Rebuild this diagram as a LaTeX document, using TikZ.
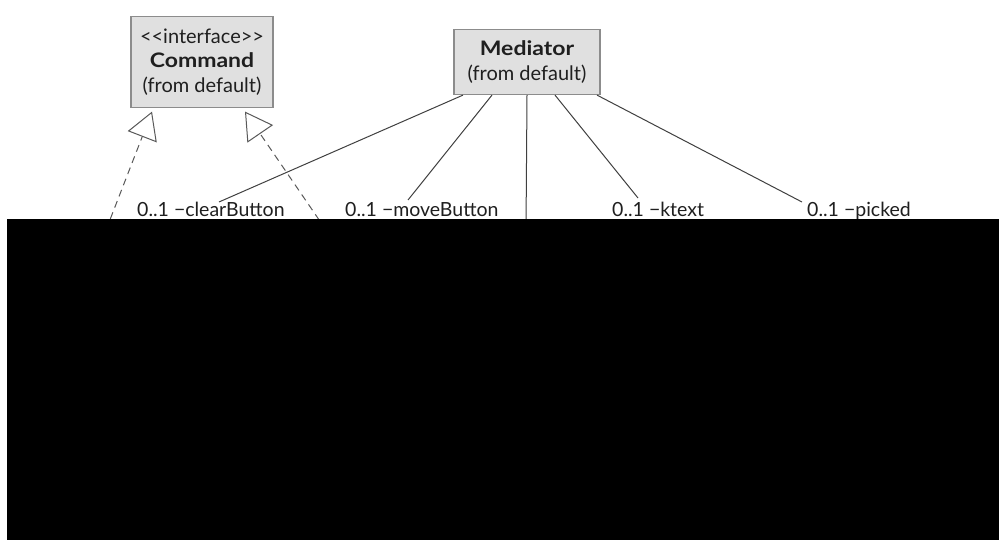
\documentclass[tikz,border=0pt]{standalone}
\usepackage{fontspec}
\setmainfont{Lato}
\newfontfamily\namefont{Lato}[FakeStretch=1.15]
\usetikzlibrary{arrows.meta}
\begin{document}
\begin{tikzpicture}[x=1pt,y=-1pt,
  classbox/.style={draw=black!45, fill=black!12, line width=1.2pt, inner sep=0pt, align=center,
    text=black!88, font=\fontsize{20}{24.5}\selectfont},
  assoc/.style={draw=black!75, line width=1pt},
  realize/.style={draw=black!65, line width=1pt, dash pattern=on 7pt off 5pt,
    -{Triangle[open, length=27pt, width=31pt, line width=1pt]}},
  rolelabel/.style={anchor=base west, inner sep=0pt, text=black!88,
    font=\fontsize{19.5}{22}\selectfont}]
\useasboundingbox (0,0) rectangle (999,540);
\fill[white] (0,0) rectangle (999,540);

% classes
\node[classbox, minimum width=142pt, minimum height=91pt] (cmd) at (202,62)
  {<{}<interface>{}>\\ {\namefont\bfseries Command}\\ (from default)};
\node[classbox, minimum width=146pt, minimum height=65pt] (med) at (527,62)
  {{\namefont\bfseries Mediator}\\ (from default)};

% role names of the associations
\node[rolelabel] (lclear) at (137,217) {0..1 −clearButton};
\node[rolelabel] (lmove)  at (345,217) {0..1 −moveButton};
\node[rolelabel] (lktext) at (612,217) {0..1 −ktext};
\node[rolelabel] (lpick)  at (807,217) {0..1 −picked};

% association ends
\coordinate (eclear) at (219,202);
\coordinate (emove)  at (408,200);
\coordinate (edown)  at (526,230);
\coordinate (ektext) at (638,198);
\coordinate (epick)  at (802,202);

\draw[assoc] ([xshift=-64pt]med.south) -- (eclear);
\draw[assoc] ([xshift=-35pt]med.south) -- (emove);
\draw[assoc] (med.south) -- (edown);
\draw[assoc] ([xshift=28pt]med.south) -- (ektext);
\draw[assoc] ([xshift=70pt]med.south) -- (epick);

% realizations of the interface
\coordinate (rleft)  at (106,230);
\coordinate (rright) at (326,230);
\draw[realize] (rleft) -- ([xshift=-50pt,yshift=-3.5pt]cmd.south);
\draw[realize] (rright) -- ([xshift=43pt,yshift=-3.5pt]cmd.south);

% covered lower part
\fill[black] (7,219.5) rectangle (999,540);
\end{tikzpicture}
\end{document}
